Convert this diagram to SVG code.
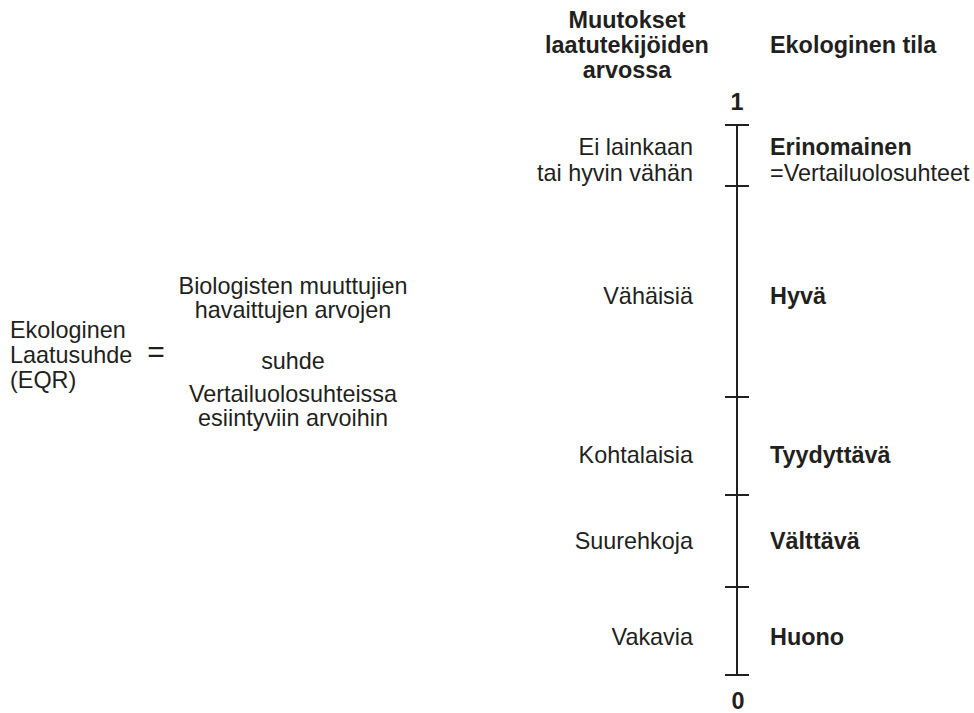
<svg xmlns="http://www.w3.org/2000/svg" width="974" height="713" viewBox="0 0 974 713">
<style>
text{font-family:"Liberation Sans",Arial,sans-serif;font-size:23.4px;fill:#231f20}
.b{font-weight:bold}
.m{text-anchor:middle}
.e{text-anchor:end}
.ax{stroke:#231f20;stroke-width:2;fill:none}
</style>
<rect width="974" height="713" fill="#fff"/>
<g id="eqr">
<text x="10" y="338">Ekologinen</text>
<text x="10" y="363">Laatusuhde</text>
<text x="10" y="388">(EQR)</text>
<text x="156" y="362" class="m" style="font-size:30px">=</text>
</g>
<g id="definition">
<text x="293" y="294" class="m">Biologisten muuttujien</text>
<text x="293" y="318" class="m">havaittujen arvojen</text>
<text x="293" y="369" class="m">suhde</text>
<text x="293" y="402" class="m">Vertailuolosuhteissa</text>
<text x="293" y="426" class="m">esiintyviin arvoihin</text>
</g>
<g id="header-changes">
<text x="627" y="28" class="b m">Muutokset</text>
<text x="627" y="53" class="b m">laatutekijöiden</text>
<text x="627" y="78" class="b m">arvossa</text>
</g>
<g id="header-status">
<text x="770" y="53" class="b">Ekologinen tila</text>
</g>
<g id="connectors">
<line class="ax" x1="737" y1="125" x2="737" y2="675"/>
<line class="ax" x1="725" y1="125" x2="749" y2="125"/>
<line class="ax" x1="725" y1="186" x2="749" y2="186"/>
<line class="ax" x1="725" y1="397" x2="749" y2="397"/>
<line class="ax" x1="725" y1="495" x2="749" y2="495"/>
<line class="ax" x1="725" y1="587" x2="749" y2="587"/>
<line class="ax" x1="725" y1="675" x2="749" y2="675"/>
</g>
<g id="scale-labels">
<text x="737" y="110" class="b m">1</text>
<text x="738" y="709" class="b m">0</text>
</g>
<g id="excellent">
<text x="693" y="155" class="e">Ei lainkaan</text>
<text x="693" y="181" class="e">tai hyvin vähän</text>
<text x="770" y="155" class="b">Erinomainen</text>
<text x="770" y="181">=Vertailuolosuhteet</text>
</g>
<g id="good">
<text x="693" y="304" class="e">Vähäisiä</text>
<text x="770" y="304" class="b">Hyvä</text>
</g>
<g id="moderate">
<text x="693" y="463" class="e">Kohtalaisia</text>
<text x="770" y="463" class="b">Tyydyttävä</text>
</g>
<g id="poor">
<text x="693" y="549" class="e">Suurehkoja</text>
<text x="770" y="549" class="b">Välttävä</text>
</g>
<g id="bad">
<text x="693" y="645" class="e">Vakavia</text>
<text x="770" y="645" class="b">Huono</text>
</g>
</svg>
